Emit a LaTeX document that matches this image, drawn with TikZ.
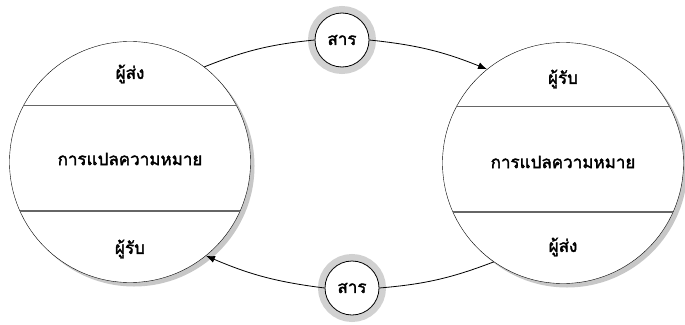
\documentclass[tikz,border=0pt]{standalone}
\usepackage{fontspec}
\newfontfamily\thaifont[Script=Thai,AutoFakeBold=2]{Loma}
\usetikzlibrary{shadows,arrows.meta}

\tikzset{
	bigcircle/.style={circle, draw, fill=white, minimum size=241pt, inner sep=0pt,
		drop shadow={shadow xshift=4pt, shadow yshift=-4pt, fill=black!22, opacity=1}},
	msgcircle/.style={circle, draw, thick, fill=white, minimum size=54pt, inner sep=0pt,
		preaction={draw=black!18, line width=14pt}},
	divider/.style={draw=black!60, line width=1.4pt},
	lbl/.style={font=\thaifont\bfseries\fontsize{17}{20}\selectfont},
	flow/.style={draw, line width=0.8pt, -{Latex[length=9pt,width=7pt]}}
}

\begin{document}
\begin{tikzpicture}[x=1pt,y=-1pt]
		\useasboundingbox (0,0) rectangle (685,324);
		
		% the two persons
		\node[bigcircle] (left) at (130,162) {};
		\node[bigcircle] (right) at (563,163) {};
		
		\draw[divider] (left.152) -- (left.28);
		\draw[divider] (left.204) -- (left.336);
		\draw[divider] (right.152) -- (right.28);
		\draw[divider] (right.204) -- (right.336);
		
		\node[lbl] (lsend) at (130,74) {ผู้ส่ง};
		\node[lbl] (lmean) at (130,159) {การแปลความหมาย};
		\node[lbl] (lrecv) at (130,249) {ผู้รับ};
		\node[lbl] (rrecv) at (563,79) {ผู้รับ};
		\node[lbl] (rmean) at (563,162) {การแปลความหมาย};
		\node[lbl] (rsend) at (563,247) {ผู้ส่ง};
		
		% messages
		\node[msgcircle, lbl] (msgtop) at (342,40) {สาร};
		\node[msgcircle, lbl] (msgbot) at (352,288) {สาร};
		
		\draw[line width=0.8pt] (left.52) to[bend left=8] (msgtop.west);
		\draw[flow] (msgtop.east) to[bend left=8] (right.129);
		\draw[line width=0.8pt] (right.235) to[bend left=8] (msgbot.east);
		\draw[flow] (msgbot.west) to[bend left=8] (left.309);
		
\end{tikzpicture}
\end{document}
